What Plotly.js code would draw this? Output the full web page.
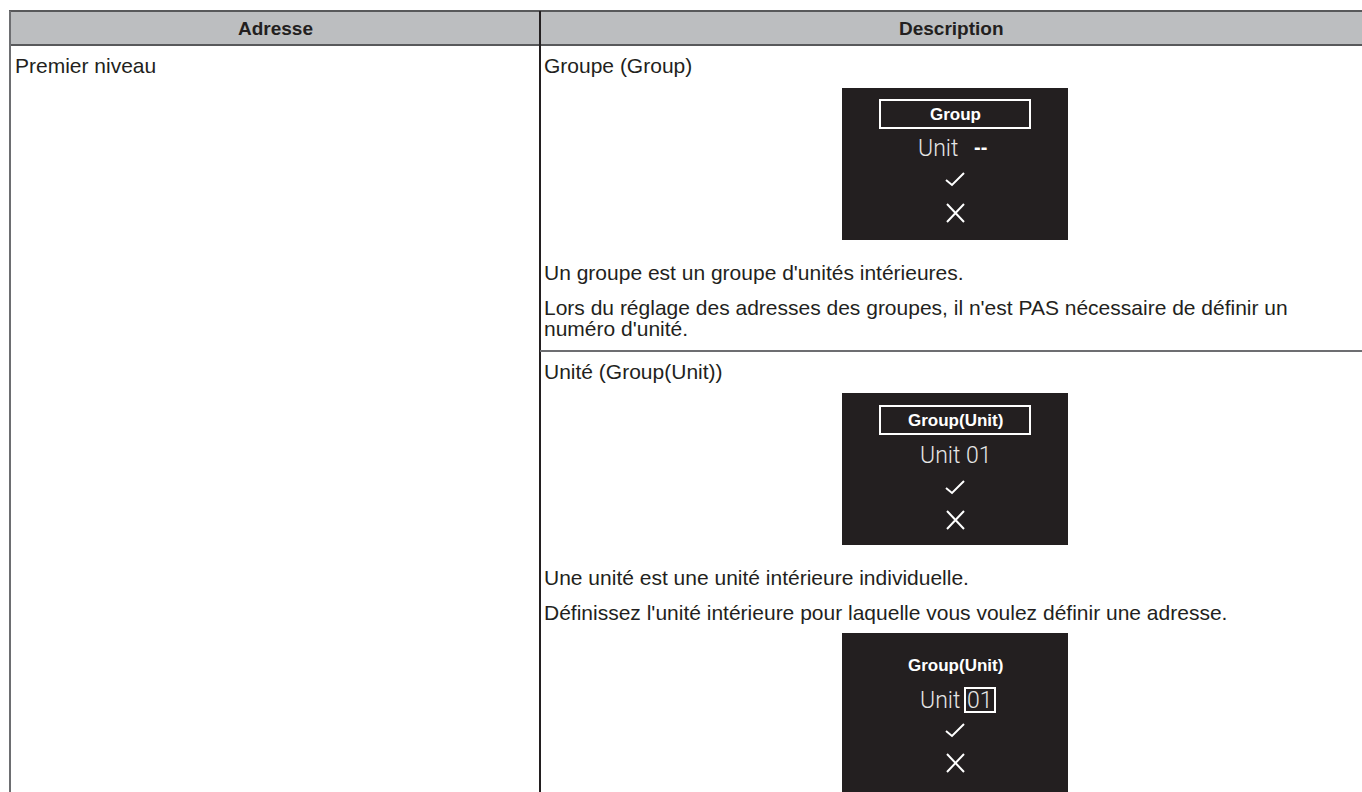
<!DOCTYPE html>
<html>
<head>
<meta charset="utf-8">
<script src="https://cdn.plot.ly/plotly-3.0.1.min.js"></script>
<style>html,body{margin:0;padding:0;background:#fff;}#chart{width:1362px;height:792px;}</style>
</head>
<body>
<div id="chart"></div>
<script>
// ---- content ----
const headers = ["Adresse", "Description"];
const addressCell = ["Premier niveau"];
const groupTitle = ["Groupe (Group)"];
const groupLines = [
  "Un groupe est un groupe d'unités intérieures.",
  "Lors du réglage des adresses des groupes, il n'est PAS nécessaire de définir un",
  "numéro d'unité."
];
const unitTitle = ["Unité (Group(Unit))"];
const unitLines = [
  "Une unité est une unité intérieure individuelle.",
  "Définissez l'unité intérieure pour laquelle vous voulez définir une adresse."
];
const screenTitles = ["Group", "Group(Unit)", "Group(Unit)"];
const screenUnitLabel = ["Unit", "Unit", "Unit"];
const screenUnitValues = ["--", "01", "01"];
const screenTitleBoxed = [true, true, false];
const screenValueBoxed = [false, false, true];

// ---- geometry (layout only) ----
const W = 1362, H = 792;
const colL = 10, colM = 540, colR = 1362;
const headTop = 11, headBot = 45;
const rowSep = 351;
const txtFont = {family: "Liberation Sans, Arial, sans-serif", size: 21, color: "#231f20"};
const headFont = {family: "Liberation Sans, Arial, sans-serif", size: 19, color: "#231f20", weight: 700};
const scrCx = 955, scrX0 = 842, scrX1 = 1068;
const screenTops = [88, 393, 633];
const screenBots = [240, 545, 800];
const titleDy = [26, 27, 32];
const unitDy = [60, 62, 67];
const checkDy = [91, 94, 97];
const crossDy = [125, 127, 130];

const shapes = [];
const ann = [];
const lineCol = "#58595b";

// header band
shapes.push({type: "rect", x0: colL, x1: colR + 5, y0: headTop, y1: headBot,
  fillcolor: "#bcbec0", line: {color: lineCol, width: 2}});
// vertical lines
shapes.push({type: "line", x0: colL, x1: colL, y0: headTop, y1: H + 5, line: {color: "#6d6e71", width: 2}});
shapes.push({type: "line", x0: colM, x1: colM, y0: headTop, y1: H + 5, line: {color: "#231f20", width: 2}});
// row separator in description column
shapes.push({type: "line", x0: colM, x1: colR + 5, y0: rowSep, y1: rowSep, line: {color: "#6d6e71", width: 2}});

function text(x, y, s, font, anchor) {
  ann.push({x: x, y: y, xref: "x", yref: "y", text: s, showarrow: false,
    xanchor: anchor || "left", yanchor: "middle", font: font});
}

text((colL + colM) / 2, (headTop + headBot) / 2, "<b>" + headers[0] + "</b>", headFont, "center");
text((colM + colR) / 2, (headTop + headBot) / 2, "<b>" + headers[1] + "</b>", headFont, "center");
text(colL + 3, 65, addressCell[0], txtFont);

const dx = colM + 2;
text(dx, 65, groupTitle[0], txtFont);
const groupY = [272, 307, 328];
groupLines.forEach((s, i) => text(dx, groupY[i], s, txtFont));
text(dx, 371, unitTitle[0], txtFont);
const unitY = [577, 612];
unitLines.forEach((s, i) => text(dx, unitY[i], s, txtFont));

// screens
const scrTitleFont = {family: "Liberation Sans, Arial, sans-serif", size: 17, color: "#ffffff", weight: 700};
const scrUnitFont = {family: "Roboto, Liberation Sans, sans-serif", size: 23, color: "#e6e6e6", weight: 300};
screenTops.forEach((top, i) => {
  shapes.push({type: "rect", x0: scrX0, x1: scrX1, y0: top, y1: screenBots[i],
    fillcolor: "#231f20", line: {width: 0}});
  const ty = top + titleDy[i];
  if (screenTitleBoxed[i]) {
    shapes.push({type: "rect", x0: 880, x1: 1030, y0: ty - 14, y1: ty + 14,
      line: {color: "#ffffff", width: 2}});
  }
  text(scrCx, ty, "<b>" + screenTitles[i] + "</b>", scrTitleFont, "center");
  const uy = top + unitDy[i];
  if (screenValueBoxed[i]) {
    text(962, uy, screenUnitLabel[i], scrUnitFont, "right");
    shapes.push({type: "rect", x0: 965, x1: 995, y0: uy - 12, y1: uy + 12,
      line: {color: "#ffffff", width: 2}});
    text(980, uy, screenUnitValues[i], scrUnitFont, "center");
  } else if (screenUnitValues[i] === "--") {
    text(960, uy, screenUnitLabel[i], scrUnitFont, "right");
    text(972, uy - 1, "<b>" + screenUnitValues[i] + "</b>", {family: "Liberation Sans", size: 20, color: "#ffffff"}, "left");
  } else {
    text(scrCx, uy, screenUnitLabel[i] + " " + screenUnitValues[i], scrUnitFont, "center");
  }
  const cy = top + checkDy[i];
  shapes.push({type: "path", path: `M 946 ${cy + 1} L 952 ${cy + 6} L 964 ${cy - 6}`,
    line: {color: "#ffffff", width: 2}});
  const xy = top + crossDy[i];
  shapes.push({type: "path", path: `M 947 ${xy - 9} L 964 ${xy + 9} M 964 ${xy - 9} L 947 ${xy + 9}`,
    line: {color: "#ffffff", width: 2}});
});

const data = [{x: [], y: [], type: "scatter", mode: "markers", hoverinfo: "skip", showlegend: false}];
const layout = {
  width: W, height: H,
  margin: {l: 0, r: 0, t: 0, b: 0, pad: 0},
  paper_bgcolor: "#ffffff", plot_bgcolor: "#ffffff",
  xaxis: {range: [0, W], visible: false, fixedrange: true},
  yaxis: {range: [H, 0], visible: false, fixedrange: true},
  shapes: shapes, annotations: ann, showlegend: false
};
Plotly.newPlot("chart", data, layout, {displayModeBar: false, staticPlot: true});
</script>
</body>
</html>
